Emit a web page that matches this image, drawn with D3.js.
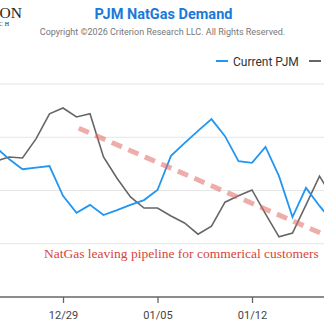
<!DOCTYPE html>
<html>
<head>
<meta charset="utf-8">
<script src="https://cdn.jsdelivr.net/npm/d3@7"></script>
<style>
  body { margin: 0; background: #fff; }
  svg { display: block; font-family: Roboto, sans-serif; }
</style>
</head>
<body>
<svg width="324" height="334"></svg>
<script>
// Daily dates, 12/24 through 01/18
const dates = d3.timeDay.range(new Date(2025, 11, 24), new Date(2026, 0, 19));

// Series values (Bcf/d)
const currentPJM = [7.82, 7.59, 7.40, 7.43, 7.46, 6.90, 6.58, 6.73, 6.54, 6.63, 6.73, 6.82, 7.01,
  7.65, 7.89, 8.12, 8.34, 8.02, 7.55, 7.52, 7.82, 7.27, 6.50, 7.05, 6.71, 6.41];
const priorYear = [7.55, 7.63, 7.61, 7.97, 8.44, 8.55, 8.38, 8.44, 7.63, 7.23, 6.88, 6.67, 6.67,
  6.52, 6.39, 6.18, 6.33, 6.78, 6.90, 7.01, 6.56, 6.13, 6.20, 6.73, 7.27, 6.86];

const seriesNames = ['Current PJM', 'Prior Year'];
const seriesColors = ['#2196f3', '#666666'];

// Trend annotation (start / end)
const trendDates = [new Date(2025, 11, 30, 4), new Date(2026, 0, 19)];
const trendValues = [8.17, 5.99];
const trendLabel = 'NatGas leaving pipeline for commerical customers';

const yTicks = [6, 7, 8, 9];
// weekly ticks on Mondays
const xTicks = dates.filter(d => d.getDay() === 1);

const svg = d3.select('svg'),
  width = +svg.attr('width'),
  height = +svg.attr('height');

// Scales
const x = d3.scaleTime()
  .domain([new Date(2025, 11, 29), new Date(2026, 0, 5)])
  .range([63, 157.5]);
const y = d3.scaleLinear().domain([5, 9]).range([297, 84]);

// Header: logo, title, copyright
svg.append('text')
  .attr('x', 22).attr('y', 18)
  .attr('text-anchor', 'end')
  .style('font-family', '"Liberation Serif", serif')
  .style('font-size', '15.5px')
  .attr('fill', '#222')
  .text('CRITERION');
svg.append('text')
  .attr('x', 11).attr('y', 26)
  .attr('text-anchor', 'end')
  .style('font-family', '"Liberation Serif", serif')
  .style('font-size', '6px')
  .style('letter-spacing', '2px')
  .attr('fill', '#222')
  .text('RESEARCH');

svg.append('text')
  .attr('x', 163.5).attr('y', 19)
  .attr('text-anchor', 'middle')
  .style('font-size', '14.5px')
  .style('font-weight', 'bold')
  .attr('fill', '#1a7ad9')
  .text('PJM NatGas Demand');
svg.append('text')
  .attr('x', 162.5).attr('y', 35)
  .attr('text-anchor', 'middle')
  .style('font-size', '9px')
  .attr('fill', '#777')
  .text('Copyright \u00a92026 Criterion Research LLC. All Rights Reserved.');

// Legend
const legend = svg.append('g').selectAll('g')
  .data(seriesNames)
  .enter().append('g')
  .attr('transform', (d, i) => `translate(${216 + i * 93}, 61)`);
legend.append('line')
  .attr('x1', 0).attr('x2', 12)
  .attr('stroke', (d, i) => seriesColors[i])
  .attr('stroke-width', 2);
legend.append('text')
  .attr('x', 17).attr('y', 4.5)
  .style('font-size', '12px')
  .attr('fill', '#333')
  .text(d => d);

// Gridlines
svg.append('g')
  .selectAll('line')
  .data(yTicks)
  .enter().append('line')
  .attr('x1', 0).attr('x2', width)
  .attr('y1', d => y(d)).attr('y2', d => y(d))
  .attr('stroke', '#e6e6e6')
  .attr('stroke-width', 1.2);

// X axis
const gx = svg.append('g')
  .attr('transform', `translate(0, ${y(5)})`)
  .call(d3.axisBottom(x)
    .tickValues(xTicks)
    .tickFormat(d3.timeFormat('%m/%d'))
    .tickSize(6)
    .tickSizeOuter(0)
    .tickPadding(8));
gx.select('.domain').remove();
gx.insert('line', ':first-child')
  .attr('x1', 0).attr('x2', width)
  .attr('stroke', '#666').attr('stroke-width', 1.3);
gx.selectAll('.tick line').attr('stroke', '#666').attr('stroke-width', 1.3);
gx.selectAll('.tick text')
  .style('font-family', 'Roboto, sans-serif')
  .style('font-size', '11px')
  .attr('fill', '#444');

// Lines
const line = d3.line()
  .x((d, i) => x(dates[i]))
  .y(d => y(d));

svg.append('path')
  .datum(priorYear)
  .attr('d', line)
  .attr('fill', 'none')
  .attr('stroke', seriesColors[1])
  .attr('stroke-width', 1.6);

svg.append('path')
  .datum(currentPJM)
  .attr('d', line)
  .attr('fill', 'none')
  .attr('stroke', seriesColors[0])
  .attr('stroke-width', 1.8);

// Trend annotation
svg.append('line')
  .attr('x1', x(trendDates[0])).attr('y1', y(trendValues[0]))
  .attr('x2', x(trendDates[1])).attr('y2', y(trendValues[1]))
  .attr('stroke', '#e06a60')
  .attr('stroke-opacity', 0.55)
  .attr('stroke-width', 5)
  .attr('stroke-dasharray', '11 7');

svg.append('text')
  .attr('x', 44).attr('y', 258)
  .style('font-family', '"Liberation Serif", "Times New Roman", serif')
  .style('font-size', '13.5px')
  .attr('fill', '#d9443a')
  .text(trendLabel);
</script>
</body>
</html>
